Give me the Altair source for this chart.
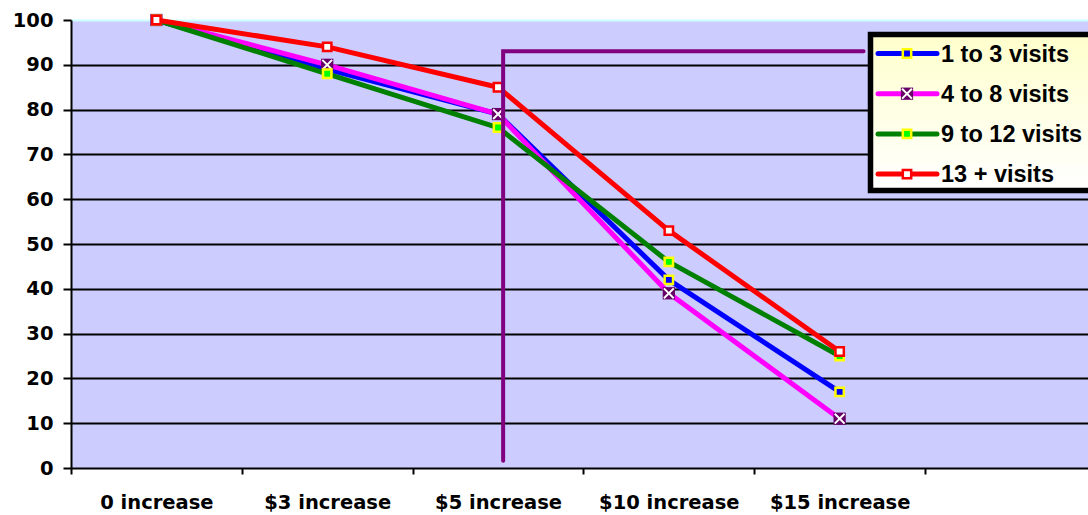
import altair as alt
import pandas as pd

# Price steps along the x axis and the share of customers retained (%)
steps = ["0 increase", "$3 increase", "$5 increase", "$10 increase", "$15  increase"]
series_names = ["1 to 3 visits", "4 to 8 visits", "9 to 12 visits", "13 + visits"]
visits_1_3 = [100, 89, 79, 42, 17]
visits_4_8 = [100, 90, 79, 39, 11]
visits_9_12 = [100, 88, 76, 46, 25]
visits_13_plus = [100, 94, 85, 53, 26]
y_ticks = [0, 10, 20, 30, 40, 50, 60, 70, 80, 90, 100]

# Threshold bracket drawn just right of the $5 step
bracket_x = [2.53, 2.53, 4.64]
bracket_y = [1.6, 93, 93]

all_values = [visits_1_3, visits_4_8, visits_9_12, visits_13_plus]

rows = []
for name, vals in zip(series_names, all_values):
    for i, (step, v) in enumerate(zip(steps, vals)):
        rows.append({"series": name, "step": step, "pos": i + 0.5, "value": v})
df = pd.DataFrame(rows)

W, H = 1017, 448
X_MAX = 5.954
AXIS_FONT = "DejaVu Sans"
LEGEND_FONT = "Liberation Sans"

label_list = "[" + ",".join("'" + s + "'" for s in steps) + "]"
x_axis = alt.Axis(
    title=None,
    values=[i * 0.5 for i in range(11)],
    labelExpr=f"datum.value % 1 ? {label_list}[floor(datum.value)] : ''",
    labelOverlap=False,
    labelFlush=False,
    labelBound=False,
    grid=False,
    tickSize=6,
    tickWidth=2,
    tickColor="black",
    tickOpacity={"condition": {"test": "datum.value % 1 != 0", "value": 0}, "value": 1},
    domainColor="black",
    domainWidth=2,
    labelPadding=19,
)
y_axis = alt.Axis(
    title=None,
    values=y_ticks,
    grid=True,
    gridColor={"condition": {"test": "datum.value == 100", "value": "#CCFFFF"}, "value": "black"},
    gridWidth=2,
    gridOpacity={"condition": {"test": "datum.value == 0", "value": 0}, "value": 1},
    tickSize=8,
    tickWidth=2,
    tickColor="black",
    domainColor="black",
    domainWidth=2,
    labelPadding=10,
)

x_scale = alt.Scale(domain=[0, X_MAX], nice=False, zero=False)
y_scale = alt.Scale(domain=[0, 100], nice=False)


def xenc(field):
    return alt.X(f"{field}:Q", scale=x_scale, axis=x_axis)


def yenc(field):
    return alt.Y(f"{field}:Q", scale=y_scale, axis=y_axis)


styles = {
    "1 to 3 visits": dict(line="#0000FF", fill="#0000FF", stroke="#FFFF00", kind="square"),
    "4 to 8 visits": dict(line="#FF00FF", fill="#660066", stroke=None, kind="cross"),
    "9 to 12 visits": dict(line="#008000", fill="#00FF00", stroke="#FFFF00", kind="square"),
    "13 + visits": dict(line="#FF0000", fill="#FFFFFF", stroke="#FF0000", kind="square"),
}

X_PATH = "M-0.8,-0.8L0.8,0.8M-0.8,0.8L0.8,-0.8"


def marker_layers(chart_base, st):
    if st["kind"] == "cross":
        return [
            chart_base.mark_point(shape="square", filled=True, size=150, opacity=1, color=st["fill"]),
            chart_base.mark_point(shape=X_PATH, filled=False, size=150, opacity=1,
                                  stroke="white", strokeWidth=2),
        ]
    return [
        chart_base.mark_point(shape="square", filled=True, size=70, opacity=1,
                              fill=st["fill"], stroke=st["stroke"], strokeWidth=2.5),
    ]


layers = []
for name in series_names:
    st = styles[name]
    sub = alt.Chart(df[df["series"] == name]).encode(x=xenc("pos"), y=yenc("value"))
    layers.append(sub.mark_line(color=st["line"], strokeWidth=5, strokeJoin="round"))
    layers.extend(marker_layers(sub, st))

# Purple threshold bracket
bracket_df = pd.DataFrame({"bx": bracket_x, "by": bracket_y, "order": [0, 1, 2]})
layers.append(
    alt.Chart(bracket_df).mark_line(color="#800080", strokeWidth=4, strokeCap="round", strokeJoin="miter")
    .encode(x=xenc("bx"), y=yenc("by"), order="order:Q")
)

# Legend box with a pale yellow gradient, placed in pixel space of the plot
box_df = pd.DataFrame({"k": [0]})
layers.append(
    alt.Chart(box_df).mark_rect(
        clip=True,
        stroke="black",
        strokeWidth=5.5,
        fill={
            "gradient": "linear", "x1": 0, "y1": 0, "x2": 0, "y2": 1,
            "stops": [{"offset": 0, "color": "#FFFFCC"}, {"offset": 1, "color": "#FFFFFF"}],
        },
    ).encode(
        x=alt.value(799.5), x2=alt.value(W + 20),
        y=alt.value(14.5), y2=alt.value(170.5),
    )
)

for i, name in enumerate(series_names):
    st = styles[name]
    ry = 33.5 + 40.2 * i
    entry = alt.Chart(pd.DataFrame({"label": [name]}))
    layers.append(
        entry.mark_rule(color=st["line"], strokeWidth=5, strokeCap="round")
        .encode(x=alt.value(807), x2=alt.value(866), y=alt.value(ry))
    )
    pt = entry.encode(x=alt.value(836), y=alt.value(ry))
    layers.extend(marker_layers(pt, st))
    layers.append(
        entry.mark_text(align="left", baseline="middle", font=LEGEND_FONT, fontWeight="bold",
                        fontSize=23.5, color="black")
        .encode(x=alt.value(870), y=alt.value(ry + 1), text="label:N")
    )

chart = (
    alt.layer(*layers)
    .properties(
        width=W,
        height=H,
        autosize=alt.AutoSizeParams(type="none"),
        padding={"left": 71, "top": 20, "right": 0, "bottom": 47},
        background="white",
    )
    .configure_view(fill="#CCCCFF", stroke=None)
    .configure_axis(labelFont=AXIS_FONT, labelFontWeight="bold", labelFontSize=19.5, labelColor="black")
)

chart.save("out.html", embed_options={"renderer": "svg", "actions": False})
